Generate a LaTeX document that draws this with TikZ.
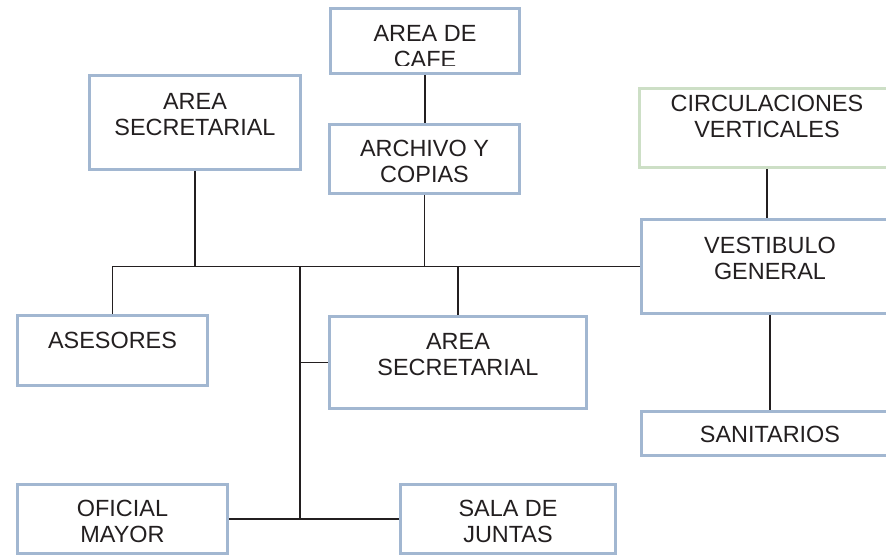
\documentclass[tikz,border=0pt]{standalone}
\usepackage{fontspec}
\setmainfont{Liberation Sans}
\usepackage{tikz}
\usetikzlibrary{positioning,calc}
\definecolor{roomblue}{HTML}{A2B7D1}
\definecolor{roomgreen}{HTML}{CDDFC6}
\definecolor{inkdark}{HTML}{231F20}
\tikzstyle{room} = [rectangle, draw=roomblue, line width=2.5pt, fill=white, inner sep=0pt]
\tikzstyle{roomtext} = [align=center, text=inkdark, font=\fontsize{20}{22}\selectfont, inner sep=0pt]
\tikzstyle{link} = [draw=inkdark, line width=1.6pt]

\begin{document}
\begin{tikzpicture}[x=0.03cm, y=-0.03cm]
\useasboundingbox (0,0) rectangle (886,556);

% upper part
\node[room, minimum width=5.67cm, minimum height=1.95cm] (cafe) at (425,41) {};
\node[room, minimum width=6.33cm, minimum height=2.82cm,
  label={[roomtext, yshift=0.23cm]center:AREA\\SECRETARIAL}] (secretaria) at (195,122.5) {};
\node[room, minimum width=5.7cm, minimum height=2.07cm,
  label={[roomtext, yshift=-0.07cm]center:ARCHIVO Y\\COPIAS}] (archivo) at (424.5,159) {};
\node[room, draw=roomgreen, minimum width=7.65cm, minimum height=2.37cm,
  label={[roomtext, yshift=0.34cm]center:CIRCULACIONES\\VERTICALES}] (circulacion) at (767,128) {};
\node[room, minimum width=7.71cm, minimum height=2.82cm,
  label={[roomtext, yshift=0.24cm]center:VESTIBULO\\GENERAL}] (vestibulo) at (770,266.5) {};

% lower part
\node[room, minimum width=5.7cm, minimum height=2.1cm,
  label={[roomtext, yshift=0.31cm]center:ASESORES}] (asesores) at (112.5,350.5) {};
\node[room, minimum width=7.71cm, minimum height=2.76cm,
  label={[roomtext, yshift=0.24cm]center:AREA\\SECRETARIAL}] (secretaria2) at (458,362.5) {};
\node[room, below=5.01cm of vestibulo.center, anchor=center, minimum width=7.71cm, minimum height=1.32cm,
  label={[roomtext, yshift=-0.04cm]center:SANITARIOS}] (sanitarios) {};
\node[room, minimum width=6.3cm, minimum height=2.07cm,
  label={[roomtext, yshift=-0.07cm]center:OFICIAL\\MAYOR}] (oficial) at (122.5,519) {};
\node[room, minimum width=6.45cm, minimum height=2.07cm,
  label={[roomtext, yshift=-0.07cm]center:SALA DE\\JUNTAS}] (juntas) at (508,519) {};

% text of the cafe box is cut by its lower edge
\begin{scope}
\clip (cafe.north west) rectangle ([yshift=0.29cm]cafe.south east);
\node[roomtext] (cafetext) at ([yshift=-0.165cm]cafe.center) {AREA DE\\CAFE};
\end{scope}

\coordinate (trunk) at (300,266.5);

\draw[link] (cafe.south) -- (cafe.south |- archivo.north);
\draw[link] (circulacion.south) -- (circulacion.south |- vestibulo.north);
\draw[link] (vestibulo) -- (sanitarios);
\draw[link] (asesores.north) |- (vestibulo.west);
\draw[link] (secretaria.south) -- (secretaria.south |- vestibulo.west);
\draw[link] (archivo.south) -- (archivo.south |- vestibulo.west);
\draw[link] (secretaria2.north) -- (secretaria2.north |- vestibulo.west);
\draw[link] (trunk) -- (trunk |- oficial.east);
\draw[link] (trunk |- secretaria2.west) -- (secretaria2.west);
\draw[link] (oficial) -- (juntas);
\end{tikzpicture}
\end{document}
